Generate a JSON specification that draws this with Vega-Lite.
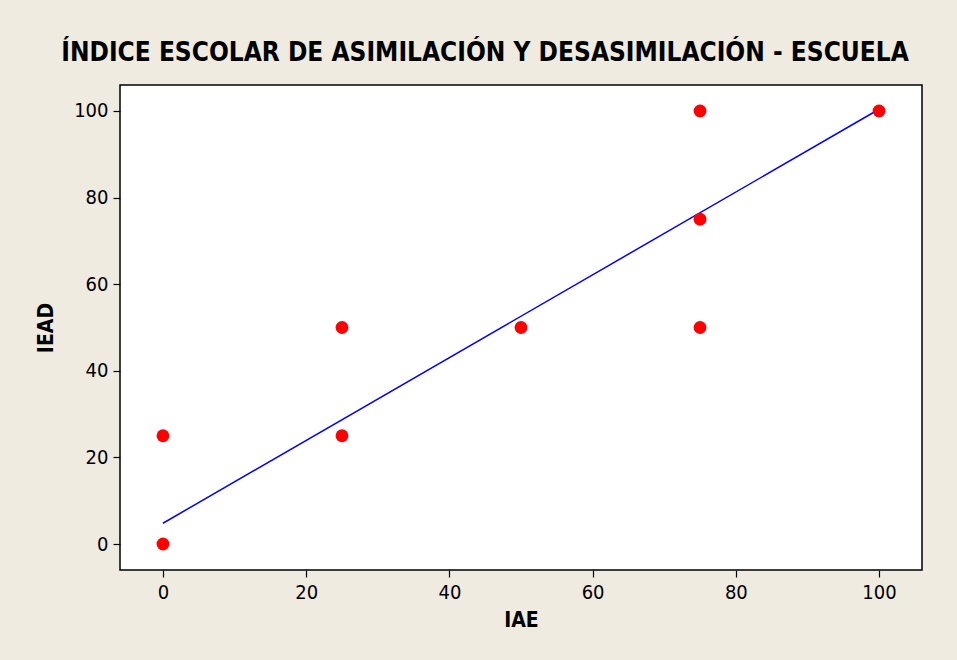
{
  "$schema": "https://vega.github.io/schema/vega-lite/v6.json",
  "width": 802,
  "height": 485,
  "autosize": {"type": "none"},
  "padding": {"left": 120, "top": 85, "right": 35, "bottom": 90},
  "background": "#EFEBE1",
  "title": {
    "text": "ÍNDICE ESCOLAR DE ASIMILACIÓN Y DESASIMILACIÓN - ESCUELA",
    "font": "DejaVu Sans Condensed",
    "fontSize": 26,
    "fontWeight": "bold",
    "color": "#000000",
    "anchor": "middle",
    "dx": -36,
    "offset": 19
  },
  "config": {
    "view": {"stroke": "#000000", "strokeWidth": 1.5, "fill": "#FFFFFF"},
    "axis": {
      "grid": false,
      "domain": false,
      "tickColor": "#000000",
      "tickSize": 7,
      "tickWidth": 1.2,
      "labelFont": "DejaVu Sans Condensed",
      "labelFontSize": 20,
      "labelColor": "#000000",
      "titleFont": "DejaVu Sans Condensed",
      "titleFontSize": 21,
      "titleFontWeight": "bold",
      "titleColor": "#000000",
      "labelPadding": 5
    }
  },
  "datasets": {
    "points": [
      {"IAE": 0, "IEAD": 0},
      {"IAE": 0, "IEAD": 25},
      {"IAE": 25, "IEAD": 25},
      {"IAE": 25, "IEAD": 50},
      {"IAE": 50, "IEAD": 50},
      {"IAE": 75, "IEAD": 50},
      {"IAE": 75, "IEAD": 75},
      {"IAE": 75, "IEAD": 100},
      {"IAE": 100, "IEAD": 100}
    ],
    "fit": [
      {"IAE": 0, "IEAD": 4.8},
      {"IAE": 100, "IEAD": 100.4}
    ]
  },
  "layer": [
    {
      "data": {"name": "fit"},
      "mark": {"type": "line", "color": "#0000FF", "strokeWidth": 1.5},
      "encoding": {
        "x": {"field": "IAE", "type": "quantitative", "scale": {"domain": [-6, 106], "nice": false, "zero": false},
              "axis": {"values": [0, 20, 40, 60, 80, 100], "title": "IAE", "titlePadding": 7}},
        "y": {"field": "IEAD", "type": "quantitative", "scale": {"domain": [-6, 106], "nice": false, "zero": false},
              "axis": {"values": [0, 20, 40, 60, 80, 100], "title": "IEAD", "titlePadding": 17}}
      }
    },
    {
      "data": {"name": "points"},
      "mark": {"type": "point", "filled": true, "shape": "circle", "color": "#FF0000", "opacity": 1, "size": 165},
      "encoding": {
        "x": {"field": "IAE", "type": "quantitative"},
        "y": {"field": "IEAD", "type": "quantitative"}
      }
    }
  ]
}
